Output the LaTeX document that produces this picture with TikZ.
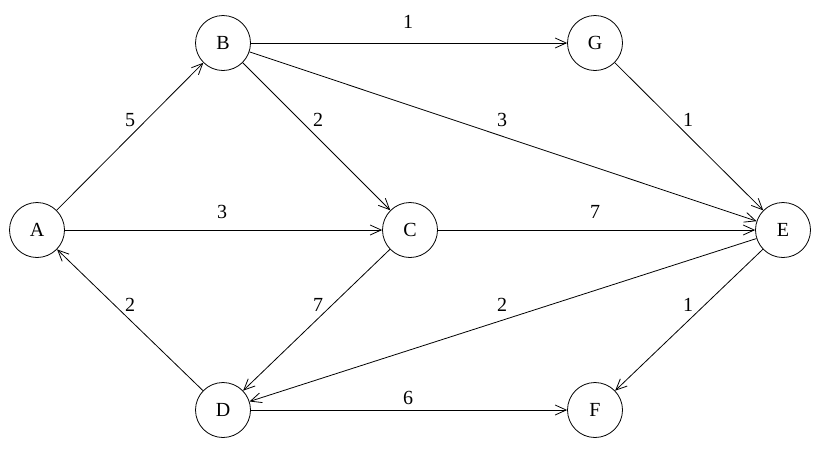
\documentclass[tikz,border=0pt]{standalone}
\usepackage{fontspec}
\setmainfont{Liberation Serif}
\usetikzlibrary{arrows.meta}
\begin{document}
\begin{tikzpicture}[x=1pt,y=-1pt,
  vtx/.style={circle,draw,line width=0.8pt,minimum size=55pt,inner sep=0pt,font=\fontsize{20}{20}\selectfont},
  edge/.style={draw,line width=0.8pt,-{Straight Barb[length=11pt,width=10pt,line width=0.8pt]}},
  wt/.style={font=\fontsize{20}{20}\selectfont}]
\useasboundingbox (0,0) rectangle (827,459);
\node[vtx] (A) at (37,230) {A};
\node[vtx] (B) at (223,43) {B};
\node[vtx] (G) at (595,43) {G};
\node[vtx] (C) at (410,230) {C};
\node[vtx] (E) at (783,230) {E};
\node[vtx] (D) at (223,410) {D};
\node[vtx] (F) at (595,410) {F};
\draw[edge] (A) -- (B);
\draw[edge] (B) -- (G);
\draw[edge] (B) -- (C);
\draw[edge] (B) -- (E);
\draw[edge] (G) -- (E);
\draw[edge] (A) -- (C);
\draw[edge] (C) -- (E);
\draw[edge] (D) -- (A);
\draw[edge] (C) -- (D);
\draw[edge] (E) -- (D);
\draw[edge] (D) -- (F);
\draw[edge] (E) -- (F);
\node[wt] (w1) at (408,22) {1};
\node[wt] (w2) at (130,120) {5};
\node[wt] (w3) at (318,120) {2};
\node[wt] (w4) at (502,120) {3};
\node[wt] (w5) at (688,120) {1};
\node[wt] (w6) at (222,212) {3};
\node[wt] (w7) at (595,212) {7};
\node[wt] (w8) at (130,305) {2};
\node[wt] (w9) at (318,305) {7};
\node[wt] (w10) at (502,305) {2};
\node[wt] (w11) at (688,305) {1};
\node[wt] (w12) at (408,398) {6};
\end{tikzpicture}
\end{document}
